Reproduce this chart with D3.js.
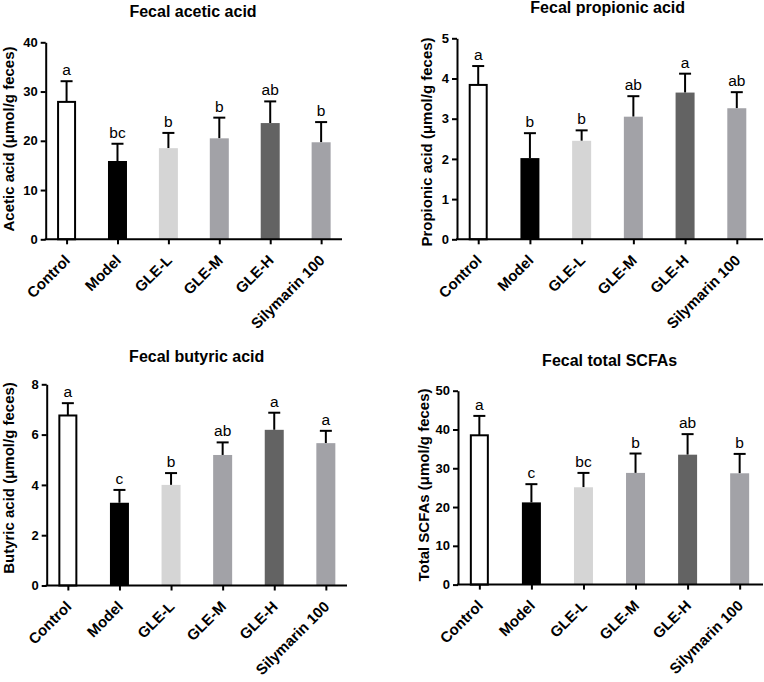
<!DOCTYPE html>
<html>
<head>
<meta charset="utf-8">
<script src="https://cdn.jsdelivr.net/npm/d3@7/dist/d3.min.js"></script>
<style>
  html, body { margin: 0; padding: 0; background: #fff; }
  svg { display: block; font-family: "Liberation Sans", Arial, sans-serif; }
</style>
</head>
<body>
<svg id="chart" width="764" height="682"></svg>
<script>
// ---------- data ----------
const categories = ["Control", "Model", "GLE-L", "GLE-M", "GLE-H", "Silymarin 100"];
const barColors = ["#ffffff", "#000000", "#d5d5d5", "#a2a2a7", "#636363", "#a2a2a7"];

const aceticMeans = [27.9, 15.9, 18.5, 20.5, 23.6, 19.7];
const aceticErrors = [4.2, 3.5, 3.1, 4.2, 4.4, 4.1];
const aceticLetters = ["a", "bc", "b", "b", "ab", "b"];
const aceticTicks = [0, 10, 20, 30, 40];

const propionicMeans = [3.84, 2.02, 2.45, 3.05, 3.65, 3.26];
const propionicErrors = [0.47, 0.62, 0.26, 0.51, 0.47, 0.40];
const propionicLetters = ["a", "b", "b", "ab", "a", "ab"];
const propionicTicks = [0, 1, 2, 3, 4, 5];

const butyricMeans = [6.76, 3.29, 4.0, 5.19, 6.19, 5.66];
const butyricErrors = [0.49, 0.51, 0.47, 0.50, 0.68, 0.49];
const butyricLetters = ["a", "c", "b", "ab", "a", "a"];
const butyricTicks = [0, 2, 4, 6, 8];

const totalMeans = [38.5, 21.2, 25.1, 28.8, 33.5, 28.7];
const totalErrors = [5.0, 4.7, 3.7, 5.0, 5.3, 5.0];
const totalLetters = ["a", "c", "bc", "b", "ab", "b"];
const totalTicks = [0, 10, 20, 30, 40, 50];

// ---------- panels (layout) ----------
const panels = [
  { title: "Fecal acetic acid", ylabel: "Acetic acid (\u03bcmol/g feces)",
    means: aceticMeans, errors: aceticErrors, letters: aceticLetters, ticks: aceticTicks,
    left: 45.7, right: 342, lineEnd: 342, top: 42.3, bottom: 239.3,
    titleX: 193, titleY: 17, ylabelX: 14, ylabelY: 139 },
  { title: "Fecal propionic acid", ylabel: "Propionic acid (\u03bcmol/g feces)",
    means: propionicMeans, errors: propionicErrors, letters: propionicLetters, ticks: propionicTicks,
    left: 457, right: 758, lineEnd: 763, top: 38.3, bottom: 239.3,
    titleX: 607.7, titleY: 13, ylabelX: 432, ylabelY: 142 },
  { title: "Fecal butyric acid", ylabel: "Butyric acid (\u03bcmol/g feces)",
    means: butyricMeans, errors: butyricErrors, letters: butyricLetters, ticks: butyricTicks,
    left: 46.7, right: 347, lineEnd: 347, top: 384.3, bottom: 585.5,
    titleX: 196.7, titleY: 361.5, ylabelX: 14, ylabelY: 478 },
  { title: "Fecal total SCFAs", ylabel: "Total SCFAs (\u03bcmol/g feces)",
    means: totalMeans, errors: totalErrors, letters: totalLetters, ticks: totalTicks,
    left: 458, right: 761, lineEnd: 763, top: 390.7, bottom: 584.6,
    titleX: 609.7, titleY: 365.5, ylabelX: 429, ylabelY: 485 }
];

const svg = d3.select("#chart");
const barW = 19;
const capW = 12;

panels.forEach(p => {
  const g = svg.append("g");
  const x = d3.scalePoint().domain(categories).range([p.left, p.right]).padding(0.41);
  const y = d3.scaleLinear().domain([0, d3.max(p.ticks)]).range([p.bottom, p.top]);

  // title
  g.append("text").attr("x", p.titleX).attr("y", p.titleY)
    .attr("text-anchor", "middle").attr("font-size", 16).attr("font-weight", "bold")
    .text(p.title);

  // y label
  g.append("text")
    .attr("transform", `translate(${p.ylabelX},${p.ylabelY}) rotate(-90)`)
    .attr("text-anchor", "middle").attr("font-size", 15).attr("font-weight", "bold")
    .text(p.ylabel);

  // bars
  categories.forEach((c, i) => {
    const cx = x(c);
    const m = p.means[i];
    const top = p.means[i] + p.errors[i];
    // error bar (upper only)
    g.append("line").attr("x1", cx).attr("x2", cx)
      .attr("y1", y(m)).attr("y2", y(top))
      .attr("stroke", "#000").attr("stroke-width", 2);
    g.append("line").attr("x1", cx - capW / 2).attr("x2", cx + capW / 2)
      .attr("y1", y(top)).attr("y2", y(top))
      .attr("stroke", "#000").attr("stroke-width", 2);
    if (i === 0) {
      g.append("rect").attr("x", cx - barW / 2 + 1).attr("width", barW - 2)
        .attr("y", y(m)).attr("height", y(0) - y(m))
        .attr("fill", "#fff").attr("stroke", "#000").attr("stroke-width", 2);
    } else {
      g.append("rect").attr("x", cx - barW / 2).attr("width", barW)
        .attr("y", y(m)).attr("height", y(0) - y(m))
        .attr("fill", barColors[i]);
    }
    g.append("text").attr("x", cx).attr("y", y(top) - 6)
      .attr("text-anchor", "middle").attr("font-size", 15.5)
      .text(p.letters[i]);
  });

  // y axis
  const ya = g.append("g").attr("transform", `translate(${p.left},0)`)
    .call(d3.axisLeft(y).tickValues(p.ticks).tickFormat(d3.format("d")).tickSize(5).tickSizeOuter(0).tickPadding(3));
  ya.select(".domain").attr("stroke-width", 2);
  ya.selectAll(".tick line").attr("stroke-width", 2);
  ya.selectAll(".tick text").attr("font-size", 13).attr("font-weight", "bold")
    .attr("font-family", "Liberation Sans, Arial, sans-serif").attr("fill", "#000");

  // x axis
  const xa = g.append("g").attr("transform", `translate(0,${p.bottom})`)
    .call(d3.axisBottom(x).tickSize(5).tickSizeOuter(0));
  xa.select(".domain").remove();
  xa.append("line").attr("x1", p.left - 1).attr("x2", p.lineEnd).attr("y1", 0).attr("y2", 0)
    .attr("stroke", "#000").attr("stroke-width", 2);
  xa.selectAll(".tick line").attr("stroke-width", 2);
  xa.selectAll(".tick text")
    .attr("font-size", 15).attr("font-weight", "bold")
    .attr("font-family", "Liberation Sans, Arial, sans-serif").attr("fill", "#000")
    .attr("text-anchor", "end")
    .attr("x", 0).attr("y", 0).attr("dy", 0)
    .attr("transform", "translate(4,22) rotate(-45)");
});
</script>
</body>
</html>
